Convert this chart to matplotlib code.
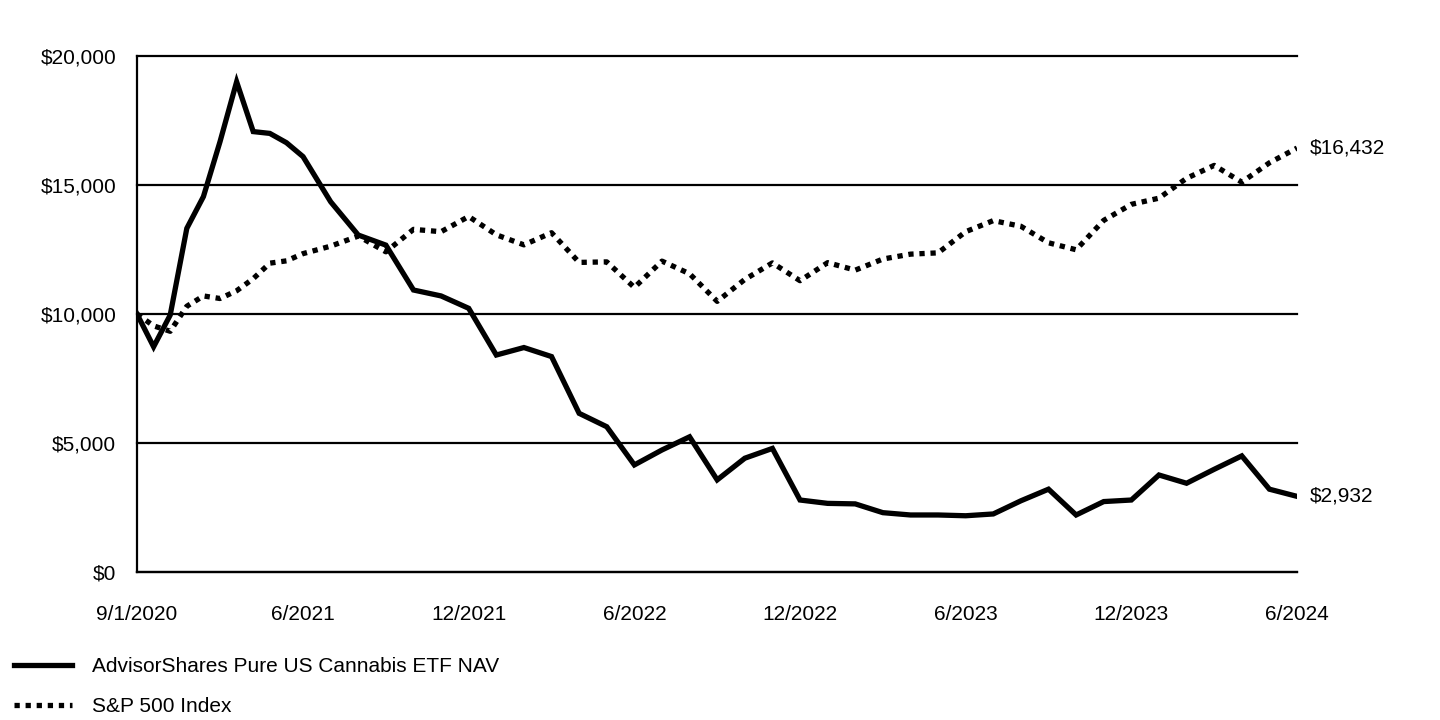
import numpy as np
import pandas as pd
import matplotlib
matplotlib.use('Agg')
import matplotlib.pyplot as plt
from matplotlib.ticker import FuncFormatter

plt.rcParams['font.family'] = ['Liberation Sans', 'DejaVu Sans']

# month-end values, first point is the 9/1/2020 start
months = ['9/1/2020'] + [f'{d.month}/{d.year}' for d in pd.date_range('2020-09-30', '2024-06-30', freq='ME')]

fund = [10000, 8730, 9960, 13320, 14550, 16680, 19000, 17070, 17000, 16640,
        16100, 14350, 13060, 12670, 10930, 10700, 10220, 8410, 8700, 8350,
        6150, 5630, 4150, 4730, 5240, 3570, 4410, 4790, 2790, 2660,
        2640, 2300, 2210, 2210, 2180, 2250, 2760, 3210, 2210, 2730,
        2790, 3760, 3440, 3980, 4500, 3210, 2932]

sp500 = [10000, 9540, 9330, 10300, 10700, 10600, 10900, 11370, 11970, 12060,
         12340, 12630, 13020, 12410, 13280, 13190, 13780, 13070, 12680, 13150,
         12000, 12020, 11030, 12050, 11560, 10490, 11340, 11980, 11290, 11990,
         11700, 12130, 12320, 12370, 13190, 13620, 13400, 12760, 12490, 13630,
         14250, 14490, 15260, 15760, 15110, 15860, 16432]

tick_labels = ['9/1/2020', '6/2021', '12/2021', '6/2022', '12/2022', '6/2023', '12/2023', '6/2024']
y_ticks = [0, 5000, 10000, 15000, 20000]

fund_name = 'AdvisorShares Pure US Cannabis ETF NAV'
index_name = 'S&P 500 Index'

# the first ten months are drawn narrower than the rest
idx = np.arange(len(months))
brk_in = [0, 10, len(months) - 1]
brk_out = [0, 10 * 0.6014, 10 * 0.6014 + len(months) - 11]


def fwd(x):
    return np.interp(x, brk_in, brk_out, left=-np.inf, right=np.inf)


def inv(x):
    return np.interp(x, brk_out, brk_in, left=-np.inf, right=np.inf)


fs = 15

fig = plt.figure(figsize=(14.4, 7.2), dpi=100)
ax = fig.add_axes([137 / 1440, 1 - 572 / 720, 1160 / 1440, 516 / 720])
ax.set_xscale('function', functions=(fwd, inv))

ax.plot(idx, fund, color='black', lw=3.8, solid_joinstyle='miter', label=fund_name, zorder=3)
ax.plot(idx, sp500, color='black', lw=3.8, linestyle=(0, (1, 1.1)), label=index_name, zorder=3)

ax.set_xlim(0, len(months) - 1)
ax.set_ylim(0, 20000)

ax.set_yticks(y_ticks)
ax.yaxis.set_major_formatter(FuncFormatter(lambda v, p: f'${v:,.0f}'))
ax.grid(axis='y', color='black', lw=1.6, zorder=1)
for gl in ax.get_ygridlines():
    gl.set_clip_on(False)
ax.set_xticks([months.index(t) for t in tick_labels])
ax.set_xticklabels(tick_labels)
ax.tick_params(axis='y', length=0, pad=15, labelsize=fs)
ax.tick_params(axis='x', length=0, pad=24, labelsize=fs)

for s in ['top', 'right']:
    ax.spines[s].set_visible(False)
ax.spines['left'].set_linewidth(1.6)
ax.spines['bottom'].set_linewidth(1.6)

# end values
for series in [fund, sp500]:
    ax.annotate(f'${series[-1]:,}', xy=(idx[-1], series[-1]), xytext=(9, 0),
                textcoords='offset points', va='center', ha='left', fontsize=fs)

fig.legend(loc='upper left', bbox_to_anchor=(14 / 1440, 1 - 657 / 720), frameon=False,
           fontsize=fs, handlelength=2.8, handletextpad=0.95, labelspacing=1.0,
           borderpad=0, borderaxespad=0)

fig.savefig('out.png', dpi=100, facecolor='white')
